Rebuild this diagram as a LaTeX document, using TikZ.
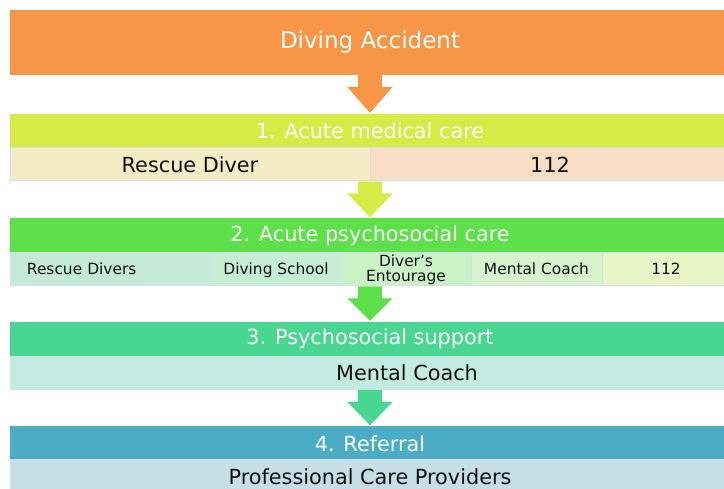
\documentclass[tikz,border=0pt]{standalone}
\usepackage{fontspec}
\setmainfont{DejaVu Sans}
\usepackage{xcolor}
\usetikzlibrary{calc}

\definecolor{accorange}{HTML}{F79646}
\definecolor{stageone}{HTML}{D5EC47}
\definecolor{stagetwo}{HTML}{5EE04A}
\definecolor{stagethree}{HTML}{49D690}
\definecolor{stagefour}{HTML}{4BACC6}
\definecolor{rowonea}{HTML}{F5EBC6}
\definecolor{rowoneb}{HTML}{F8DEC5}
\definecolor{rowtwoa}{HTML}{C5EBD8}
\definecolor{rowtwob}{HTML}{C6EED5}
\definecolor{rowtwoc}{HTML}{CBF1C6}
\definecolor{rowtwod}{HTML}{D6F3CE}
\definecolor{rowtwoe}{HTML}{E8F5C6}
\definecolor{rowthree}{HTML}{C4EBDF}
\definecolor{rowfour}{HTML}{C6DEE6}
\definecolor{cellline}{HTML}{D2E2EA}
\definecolor{cellink}{HTML}{111111}

\tikzset{
  band/.style={rectangle, minimum width=720pt, minimum height=34pt, inner sep=0pt,
    text=white, font=\fontsize{20.8}{24}\selectfont},
  cell/.style={rectangle, draw=cellline, line width=1pt, minimum height=33pt,
    inner sep=0pt, text=cellink, font=\fontsize{20.8}{24}\selectfont},
  twoline/.style={cell, align=center, font=\fontsize{15.4}{14.7}\selectfont},
  smallcell/.style={twoline, text height=12pt, text depth=1pt},
  celltext/.style={inner sep=0pt, text=cellink, font=\fontsize{20.8}{24}\selectfont},
}

% block arrow from a point down to the top of the next stage
\newcommand{\flowarrow}[3]{%
  \fill[#3] ($(#1)+(-12,0)$) -- ($(#1)+(12,0)$) -- ($(#1)+(12,12)$)
    -- ($(#1)+(22.5,12)$) -- ($(#2.north)+(0,-1)$) -- ($(#1)+(-22.5,12)$)
    -- ($(#1)+(-12,12)$) -- cycle;
}

\begin{document}
\begin{tikzpicture}[x=1pt, y=-1pt]
	
	\useasboundingbox (0,0) rectangle (724,489);
	\clip (0,0) rectangle (724,489);
	
	% header and the four stages
	\node[band, fill=accorange, minimum height=65pt, font=\fontsize{23}{27}\selectfont]
	(accident) at (370,42.5) {Diving Accident};
	\node[band, fill=stageone] (stage1) at (370,131) {1. Acute medical care};
	\node[band, fill=stagetwo] (stage2) at (370,235.5) {2. Acute psychosocial care};
	\node[band, fill=stagethree] (stage3) at (370,339) {3. Psychosocial support};
	\node[band, fill=stagefour] (stage4) at (370,443.5) {4. Referral};
	
	% who acts at each stage
	\node[cell, fill=rowonea, minimum width=360pt] (diver) at (190,164.5) {Rescue Diver};
	\node[cell, fill=rowoneb, minimum width=360pt] (emerg1) at (550,164.5) {112};
	
	\node[smallcell, fill=rowtwoa, text width=167pt, inner xsep=17pt, align=left]
	(divers) at (110.5,269.5) {Rescue Divers};
	\node[smallcell, fill=rowtwob, minimum width=130pt] (school) at (276,269.5) {Diving School};
	\node[twoline, fill=rowtwoc, minimum width=130pt] (entourage) at (406,269.5) {Diver’s\\Entourage};
	\node[smallcell, fill=rowtwod, minimum width=131pt] (coach2) at (536.5,269.5) {Mental Coach};
	\node[smallcell, fill=rowtwoe, minimum width=128pt] (emerg2) at (666,269.5) {112};
	
	\node[cell, fill=rowthree, minimum width=720pt] (support) at (370,373) {};
	\node[celltext] (coach3) at (407,373) {Mental Coach};
	
	\node[cell, fill=rowfour, minimum width=720pt, minimum height=34pt]
	(providers) at (370,477) {Professional Care Providers};
	
	% arrows between the stages
	\coordinate (out1) at (stage1.south |- diver.south);
	\coordinate (out2) at (stage2.south |- school.south);
	\coordinate (out3) at (stage3.south |- support.south);
	\flowarrow{accident.south}{stage1}{accorange}
	\flowarrow{out1}{stage2}{stageone}
	\flowarrow{out2}{stage3}{stagetwo}
	\flowarrow{out3}{stage4}{stagethree}
	
\end{tikzpicture}
\end{document}
